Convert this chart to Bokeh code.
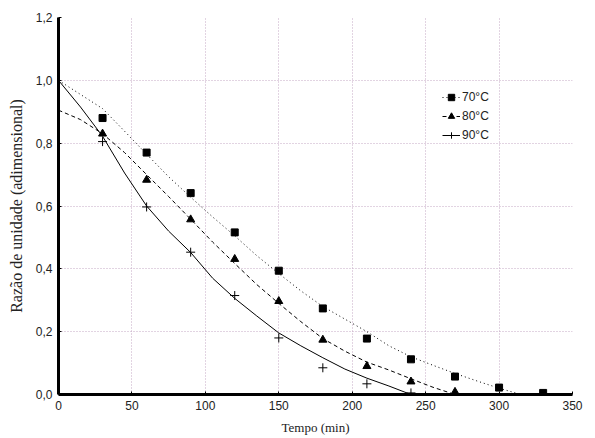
from bokeh.plotting import figure
from bokeh.models import FixedTicker, Legend, LegendItem, Range1d, CustomJSTickFormatter
from bokeh.embed import file_html
from bokeh.resources import INLINE

# Experimental points
t_70 = [30, 60, 90, 120, 150, 180, 210, 240, 270, 300, 330]
mr_70 = [0.88, 0.77, 0.641, 0.516, 0.394, 0.274, 0.178, 0.112, 0.057, 0.022, 0.005]
t_80 = [30, 60, 90, 120, 150, 180, 210, 240, 270]
mr_80 = [0.83, 0.683, 0.557, 0.431, 0.297, 0.174, 0.09, 0.041, 0.008]
t_90 = [30, 60, 90, 120, 150, 180, 210, 240]
mr_90 = [0.805, 0.597, 0.453, 0.315, 0.18, 0.085, 0.034, 0.005]

# Fitted curves
fit_t_70 = [0, 15, 30, 45, 60, 75, 90, 105, 120, 135, 150, 165, 180, 195, 210, 225, 240, 255, 270, 285, 300, 315]
fit_70 = [1.0, 0.955, 0.91, 0.838, 0.765, 0.693, 0.628, 0.565, 0.505, 0.442, 0.385, 0.33, 0.28, 0.24, 0.2, 0.155, 0.12, 0.093, 0.067, 0.043, 0.02, 0.0]
fit_t_80 = [0, 15, 30, 45, 60, 75, 90, 105, 120, 135, 150, 165, 180, 195, 210, 225, 240, 255, 270]
fit_80 = [0.905, 0.875, 0.83, 0.77, 0.70, 0.63, 0.558, 0.485, 0.417, 0.35, 0.29, 0.232, 0.178, 0.138, 0.103, 0.078, 0.05, 0.023, 0.0]
fit_t_90 = [0, 15, 30, 45, 60, 75, 90, 105, 120, 135, 150, 165, 180, 195, 210, 225, 240]
fit_90 = [1.0, 0.915, 0.822, 0.705, 0.60, 0.52, 0.452, 0.37, 0.306, 0.25, 0.196, 0.155, 0.117, 0.081, 0.052, 0.027, 0.0]

x_ticks = [0, 50, 100, 150, 200, 250, 300, 350]
y_ticks = [0, 0.2, 0.4, 0.6, 0.8, 1.0, 1.2]
labels = ["70°C", "80°C", "90°C"]

p = figure(width=595, height=438, output_backend="svg", toolbar_location=None,
           x_range=Range1d(0, 350), y_range=Range1d(0, 1.2),
           min_border_left=58, min_border_right=23, min_border_top=17, min_border_bottom=44)
p.outline_line_color = None
p.background_fill_color = "white"

p.xaxis.ticker = FixedTicker(ticks=x_ticks)
p.yaxis.ticker = FixedTicker(ticks=y_ticks)
p.yaxis.formatter = CustomJSTickFormatter(code="return tick.toFixed(1).replace('.', ',');")
p.xgrid.ticker = FixedTicker(ticks=x_ticks[1:-1])
p.ygrid.ticker = FixedTicker(ticks=y_ticks[1:])

for ax in (p.xaxis[0], p.yaxis[0]):
    ax.axis_line_width = 3
    ax.axis_line_color = "black"
    ax.major_tick_in = 3
    ax.major_tick_out = 0
    ax.major_tick_line_color = "black"
    ax.minor_tick_line_color = None
    ax.major_label_text_font = "Liberation Sans"
    ax.major_label_text_font_size = "12px"
    ax.major_label_text_color = "#222222"
    ax.axis_label_text_font = "Liberation Serif"
    ax.axis_label_text_font_style = "normal"
    ax.axis_label_text_color = "#222222"

p.xaxis.axis_label = "Tempo (min)"
p.xaxis.axis_label_text_font_size = "13px"
p.xaxis.major_label_standoff = 6
p.xaxis.axis_label_standoff = 7
p.yaxis.axis_label = "Razão de unidade (adimensional)"
p.yaxis.axis_label_text_font_size = "16px"
p.yaxis.major_label_standoff = 6
p.yaxis.axis_label_standoff = 8

for g in (p.xgrid[0], p.ygrid[0]):
    g.grid_line_color = "#c4a8c4"
    g.grid_line_dash = "1 2"
    g.grid_line_width = 1

l70 = p.line(fit_t_70, fit_70, line_color="black", line_width=1, line_dash="1 3")
l80 = p.line(fit_t_80, fit_80, line_color="black", line_width=1, line_dash="4 3")
l90 = p.line(fit_t_90, fit_90, line_color="black", line_width=1)
s70 = p.scatter(t_70, mr_70, marker="square", size=7, color="black")
s80 = p.scatter(t_80, mr_80, marker="triangle", size=8, color="black")
s90 = p.scatter(t_90, mr_90, marker="cross", size=9, line_color="black", line_width=1)

legend = Legend(items=[LegendItem(label=labels[0], renderers=[l70, s70]),
                       LegendItem(label=labels[1], renderers=[l80, s80]),
                       LegendItem(label=labels[2], renderers=[l90, s90])],
                location=(384, 251), padding=0, margin=0, spacing=3,
                glyph_width=18, glyph_height=16, label_height=16, label_standoff=2,
                label_text_font="Liberation Sans", label_text_font_size="12px",
                label_text_color="#222222",
                background_fill_alpha=0, border_line_color=None)
p.add_layout(legend)

open("out.html", "w").write(file_html(p, INLINE))
